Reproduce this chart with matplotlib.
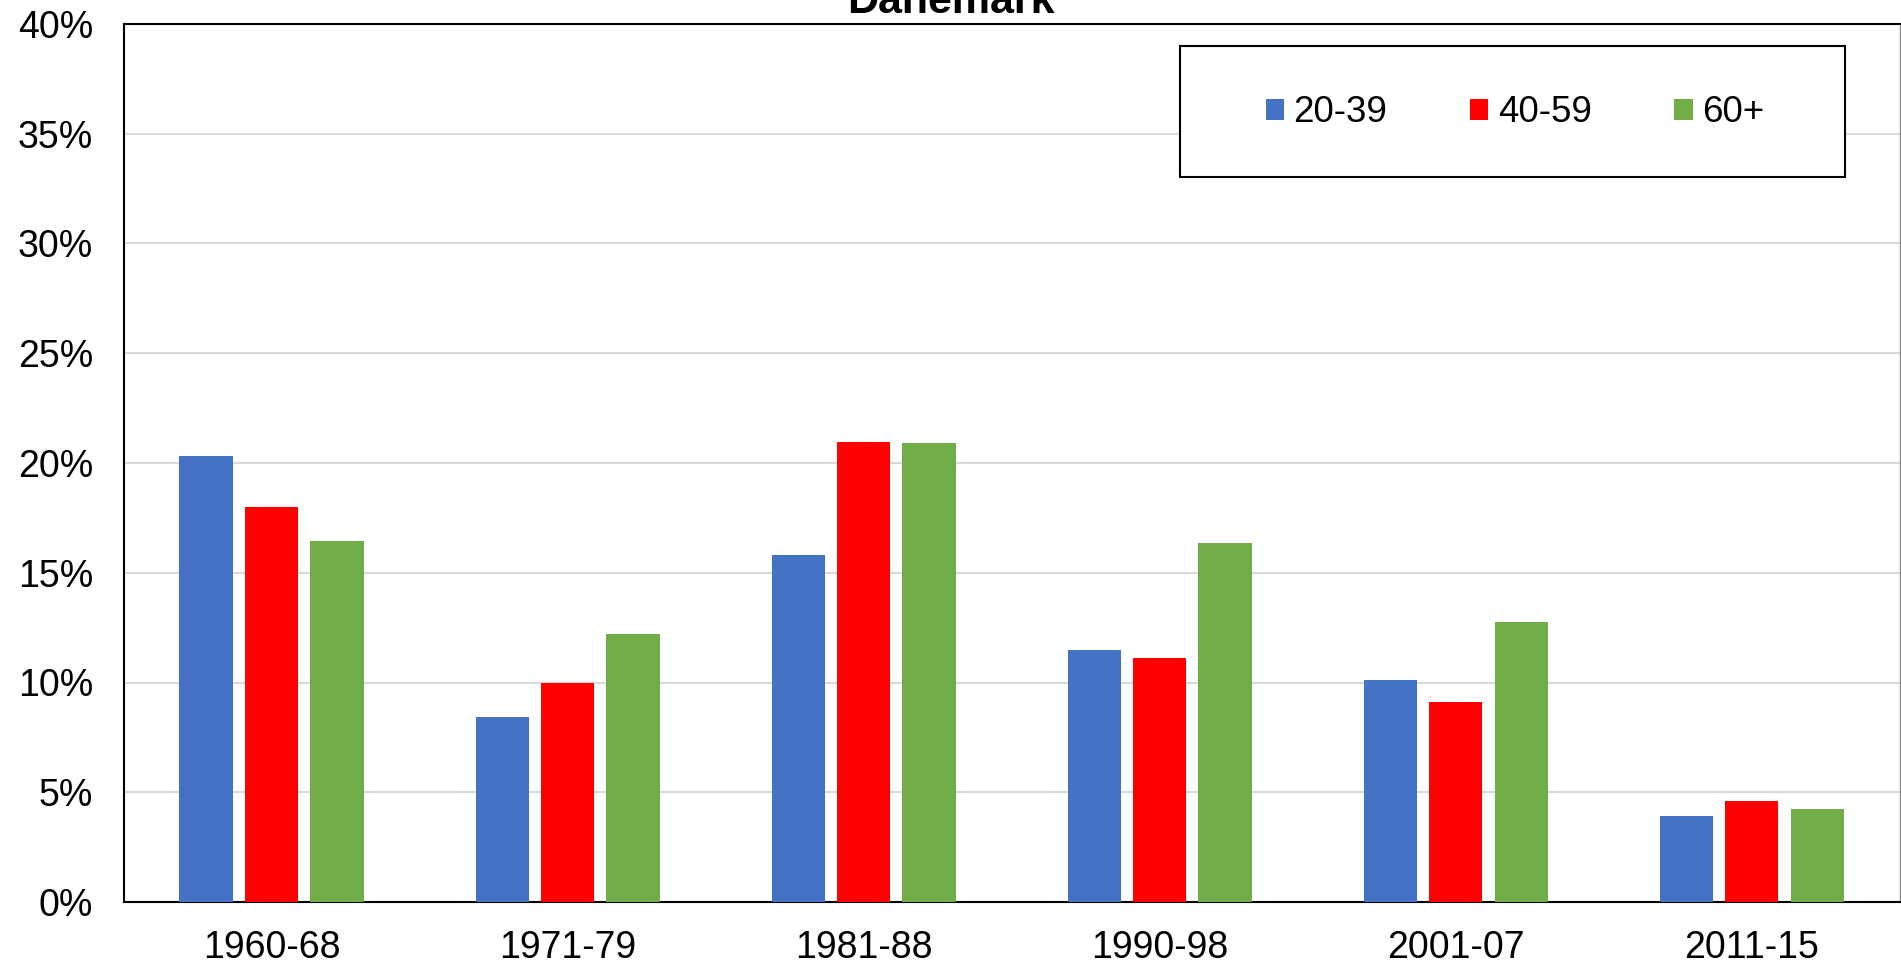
import matplotlib.pyplot as plt
import numpy as np
from matplotlib.patches import Rectangle
from matplotlib.ticker import PercentFormatter

periodes = ['1960-68', '1971-79', '1981-88', '1990-98', '2001-07', '2011-15']
groupes = ['20-39', '40-59', '60+']
v_20_39 = [20.3, 8.45, 15.8, 11.5, 10.1, 3.9]
v_40_59 = [18.0, 10.0, 20.95, 11.1, 9.1, 4.6]
v_60 = [16.45, 12.2, 20.9, 16.35, 12.75, 4.25]
couleurs = ['#4472C4', '#FF0000', '#70AD47']

plt.rcParams['font.family'] = ['Liberation Sans', 'DejaVu Sans']

fig = plt.figure(figsize=(19.01, 9.66), dpi=100)
ax = fig.add_axes([123.5 / 1901, 1 - 902 / 966, 1 - 123.5 / 1901 - 0.0006, (902 - 24) / 966])

x = np.arange(len(periodes))
w = 0.18
pas = 0.221
for i, (vals, lab) in enumerate(zip([v_20_39, v_40_59, v_60], groupes)):
    ax.bar(x + (i - 1) * pas, vals, width=w, color=couleurs[i], label=lab, zorder=3)

ax.set_xlim(-0.5, len(periodes) - 0.5)
ax.set_ylim(0, 40)
ax.set_yticks(np.arange(0, 41, 5))
ax.yaxis.set_major_formatter(PercentFormatter(decimals=0))
ax.set_xticks(x)
ax.set_xticklabels(periodes)
ax.tick_params(axis='both', length=0, labelsize=27)
ax.tick_params(axis='y', pad=22)
ax.tick_params(axis='x', pad=20)
ax.grid(axis='y', color='#D9D9D9', linewidth=1.5, zorder=0)
for s in ['left', 'top', 'bottom']:
    ax.spines[s].set_color('black')
    ax.spines[s].set_linewidth(1.5)
ax.spines['right'].set_color('#888888')
ax.spines['right'].set_linewidth(1)

# titre coupé en haut, centré sur la figure
fig.text(0.5, 1 - 13 / 966, 'Danemark', ha='center', va='baseline',
         fontsize=31, fontweight='bold')

# cadre de la légende
fig.patches.append(Rectangle((1180 / 1901, 1 - 177 / 966), 665 / 1901, 131 / 966,
                             transform=fig.transFigure, facecolor='white',
                             edgecolor='black', linewidth=1.5, zorder=5))
leg = fig.legend(loc='center', bbox_to_anchor=(1515 / 1901, 1 - 113 / 966),
                 ncol=3, frameon=False, fontsize=26.5, handlelength=0.5,
                 handleheight=0.5, handletextpad=0.25, columnspacing=2.25)
leg.set_zorder(6)

fig.savefig('out.png', dpi=100)
